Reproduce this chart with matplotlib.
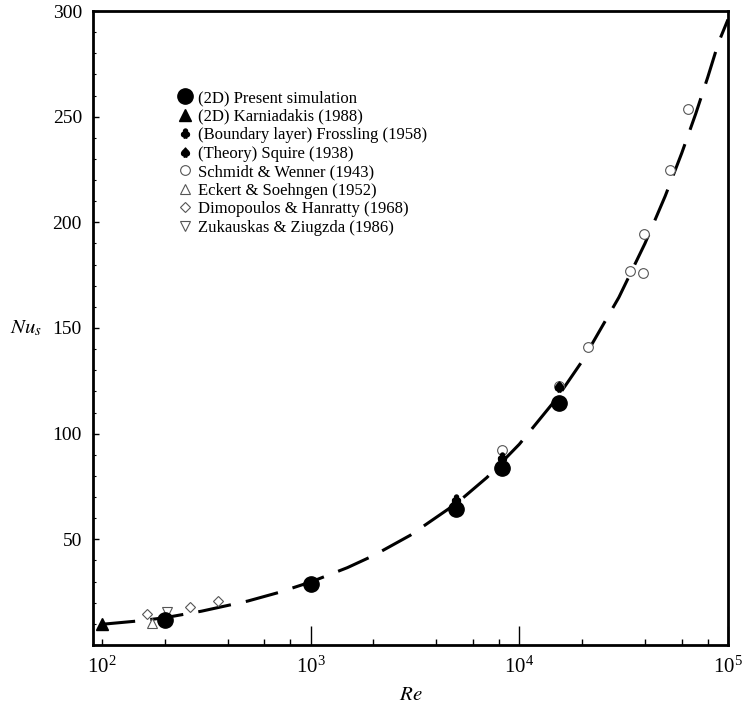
import numpy as np
import matplotlib
matplotlib.use("Agg")
import matplotlib.pyplot as plt
from matplotlib.ticker import FixedLocator, LogFormatterSciNotation, MultipleLocator, NullFormatter

plt.rcParams['font.family'] = ['Liberation Serif', 'DejaVu Serif']
plt.rcParams['mathtext.fontset'] = 'stix'
plt.rcParams['lines.scale_dashes'] = False

# present 2D simulation
re_present = [200, 1000, 5000, 8300, 15500]
nu_present = [12.0, 29.0, 64.4, 83.6, 114.7]

# Karniadakis (1988)
re_karn = [100]
nu_karn = [10.0]

# Frossling (1958), boundary layer
re_fross = [5000, 8300, 15500]
nu_fross = [69.0, 89.0, 122.0]

# Squire (1938), theory
re_squire = [5000, 8300, 15500]
nu_squire = [68.5, 88.5, 122.5]

# Schmidt & Wenner (1943)
re_schmidt = [8300, 15500, 21300, 33800, 39100, 39500, 52500, 64300]
nu_schmidt = [92.3, 122.6, 141.0, 177.0, 175.9, 194.5, 224.8, 253.5]

# Eckert & Soehngen (1952)
re_eckert = [174]
nu_eckert = [10.6]

# Dimopoulos & Hanratty (1968)
re_dimo = [164, 263, 359]
nu_dimo = [14.5, 18.1, 20.8]

# Zukauskas & Ziugzda (1986)
re_zuk = [204]
nu_zuk = [15.5]

# correlation curve
re_fit = [100, 150, 200, 300, 500, 700, 1000, 1500, 2000, 3000, 5000, 7000,
          10000, 15000, 20000, 30000, 40000, 50000, 60000, 70000, 80000, 90000, 100000]
nu_fit = [9.8, 11.4, 12.9, 16.0, 20.8, 24.8, 29.8, 36.6, 42.3, 51.9, 67.0, 79.3,
          95.0, 116.3, 134.3, 164.5, 190.0, 212.4, 232.7, 251.3, 268.7, 285.0, 296.0]

fig = plt.figure(figsize=(7.42, 7.07), dpi=100)
ax = fig.add_axes([93/742, 1-645/707, 635/742, 634/707])

ax.plot(re_fit, nu_fit, color='black', lw=2.2, dashes=(24, 11), zorder=2)

open_kw = dict(linestyle='none', mfc='white', mec='#555555', mew=0.8, zorder=3)
ax.plot(re_present, nu_present, 'o', color='black', ms=11, linestyle='none', zorder=4,
        label='(2D) Present simulation')
ax.plot(re_karn, nu_karn, '^', color='black', ms=8, linestyle='none', zorder=4,
        label='(2D) Karniadakis (1988)')
ax.plot(re_fross, nu_fross, marker=r'$\clubsuit$', color='black', ms=6.5, linestyle='none',
        zorder=5, label='(Boundary layer) Frossling (1958)')
ax.plot(re_squire, nu_squire, marker=r'$\spadesuit$', color='black', ms=6.5, linestyle='none',
        zorder=5, label='(Theory) Squire (1938)')
ax.plot(re_schmidt, nu_schmidt, 'o', ms=7, label='Schmidt & Wenner (1943)', **open_kw)
ax.plot(re_eckert, nu_eckert, '^', ms=7, label='Eckert & Soehngen (1952)', **open_kw)
ax.plot(re_dimo, nu_dimo, 'D', ms=5.5, label='Dimopoulos & Hanratty (1968)', **open_kw)
ax.plot(re_zuk, nu_zuk, 'v', ms=7, label='Zukauskas & Ziugzda (1986)', **open_kw)

ax.set_xscale('log')
ax.set_xlim(90.6, 1e5)
ax.set_ylim(0, 300)

ax.xaxis.set_major_locator(FixedLocator([1e2, 1e3, 1e4, 1e5]))
ax.xaxis.set_major_formatter(LogFormatterSciNotation())
minors = [m * 10**e for e in (2, 3, 4) for m in (2, 4, 6, 8)]
ax.xaxis.set_minor_locator(FixedLocator(minors))
ax.xaxis.set_minor_formatter(NullFormatter())
ax.yaxis.set_major_locator(FixedLocator([50, 100, 150, 200, 250, 300]))
ax.yaxis.set_minor_locator(MultipleLocator(10))

ax.tick_params(axis='x', which='major', direction='in', length=14, width=1, labelsize=15, pad=8)
ax.tick_params(axis='x', which='minor', direction='in', length=4.5, width=1)
ax.tick_params(axis='y', which='major', direction='in', length=4, width=1, labelsize=14, pad=8)
ax.tick_params(axis='y', which='minor', direction='in', length=2.5, width=0.8)
ax.xaxis.get_major_ticks()[0].tick1line.set_markersize(4.5)

for sp in ax.spines.values():
    sp.set_linewidth(2)

ax.set_xlabel(r'$Re$', fontsize=15, labelpad=6)
ax.set_ylabel(r'$Nu_s$', fontsize=15, rotation=0, ha='center', va='center')
ax.yaxis.set_label_coords(-0.106, 0.5)

ax.legend(loc='upper left', bbox_to_anchor=(0.132, 0.875), frameon=False, fontsize=12,
          handlelength=1, handletextpad=0.3, labelspacing=0.15, borderpad=0, borderaxespad=0,
          numpoints=1)

fig.savefig('out.png', dpi=100)
